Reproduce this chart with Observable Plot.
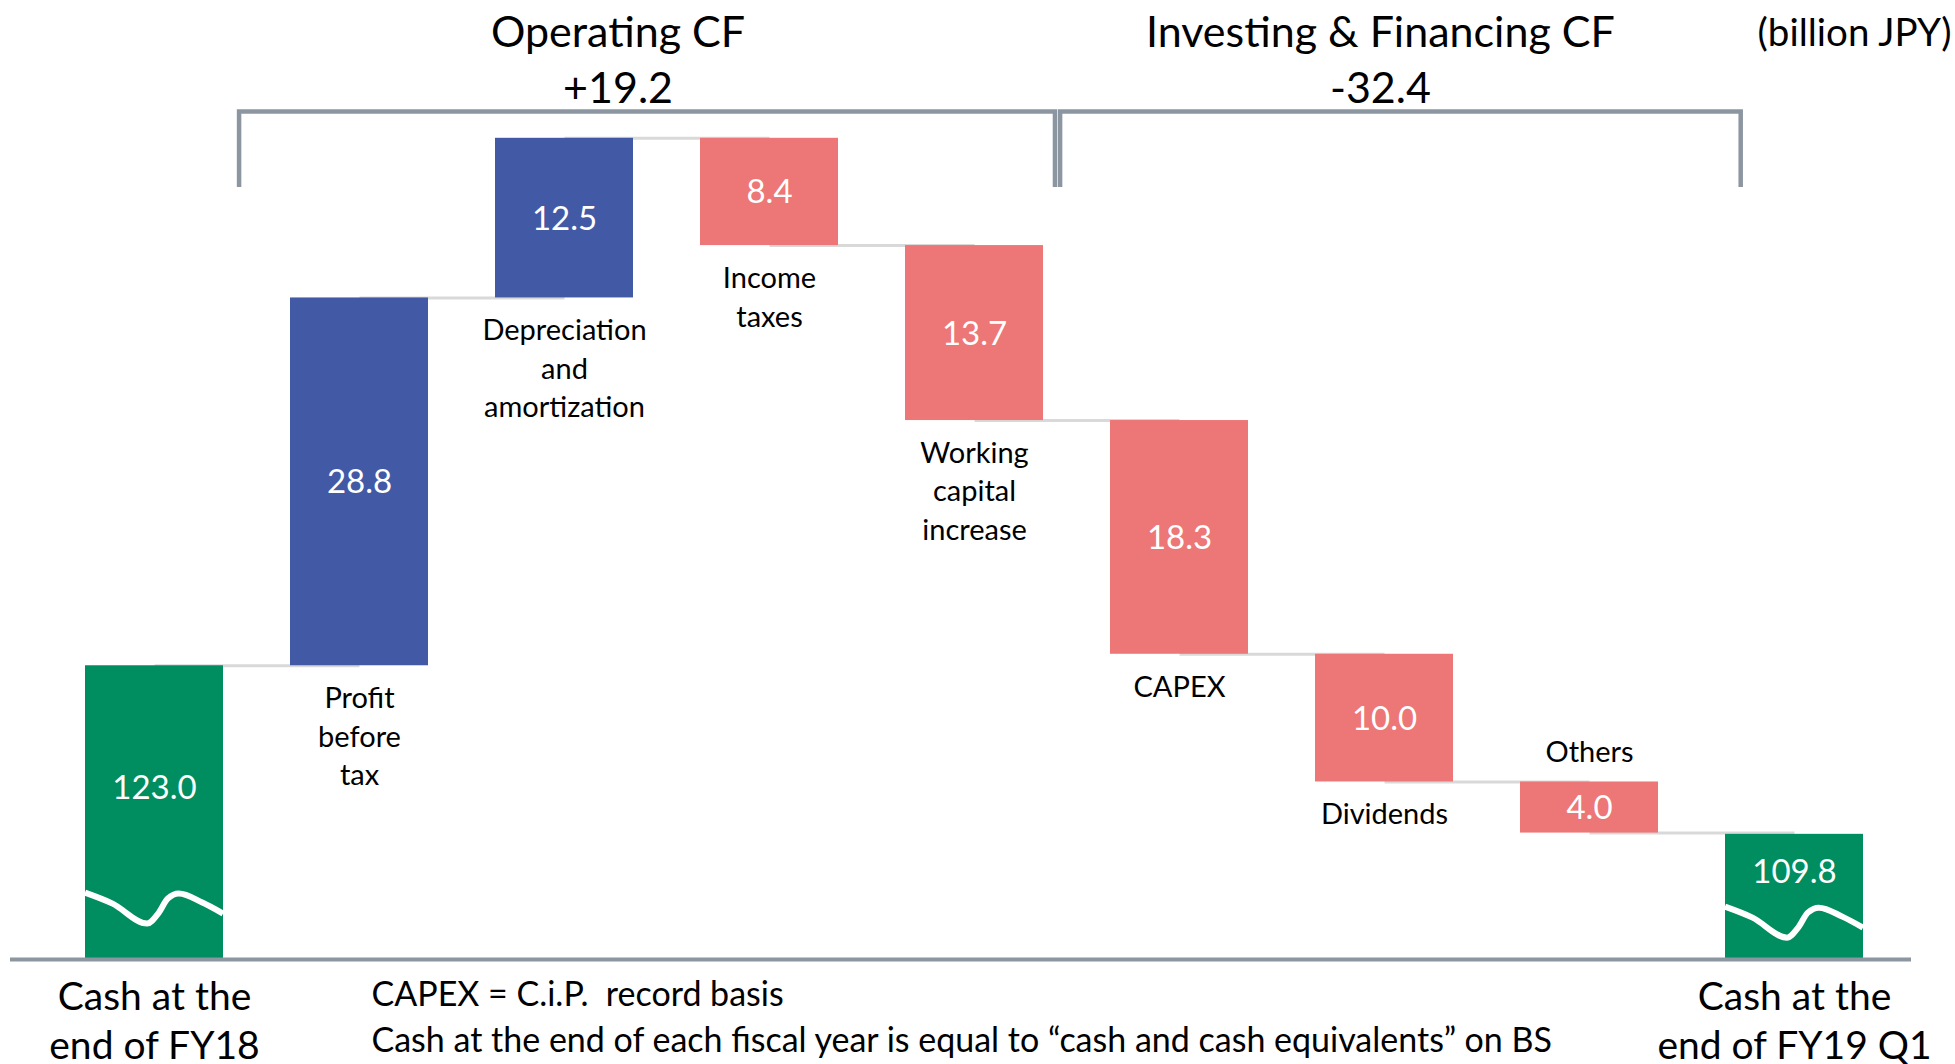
<!DOCTYPE html>
<html>
<head>
<meta charset="utf-8">
<script src="https://cdn.jsdelivr.net/npm/d3@7"></script>
<script src="https://cdn.jsdelivr.net/npm/@observablehq/plot@0.6"></script>
<style>
  html, body { margin: 0; padding: 0; background: #fff; overflow: hidden; }
</style>
</head>
<body>
<div id="chart"></div>
<script>
// ---------------- DATA ----------------
const categories = [
  "Cash at the end of FY18",
  "Profit before tax",
  "Depreciation and amortization",
  "Income taxes",
  "Working capital increase",
  "CAPEX",
  "Dividends",
  "Others",
  "Cash at the end of FY19 Q1"
];
const labels = [
  "Cash at the\nend of FY18",
  "Profit\nbefore\ntax",
  "Depreciation\nand\namortization",
  "Income\ntaxes",
  "Working\ncapital\nincrease",
  "CAPEX",
  "Dividends",
  "Others",
  "Cash at the\nend of FY19 Q1"
];
const kinds = ["total", "increase", "increase", "decrease", "decrease", "decrease", "decrease", "decrease", "total"];
const values = [123.0, 28.8, 12.5, -8.4, -13.7, -18.3, -10.0, -4.0, 109.8];
const labelAbove = ["Others"];

const groupNames = ["Operating CF", "Investing & Financing CF"];
const groupTotals = [19.2, -32.4];

const unitLabel = "(billion JPY)";
const footnotes = [
  "CAPEX = C.i.P.\u00a0 record basis",
  "Cash at the end of each fiscal year is equal to \u201ccash and cash equivalents\u201d on BS"
];

const axisFloor = 100;   // the cash bars are truncated (broken axis)

// ---------------- DERIVED TABLE ----------------
let running = 0;
const rows = categories.map((name, i) => {
  const v = values[i];
  let y1, y2;
  if (kinds[i] === "total") { y1 = axisFloor; y2 = v; running = v; }
  else { y1 = running; y2 = running + v; running = y2; }
  return {name, label: labels[i], kind: kinds[i], value: v, y1, y2,
          top: Math.max(y1, y2), bottom: Math.min(y1, y2)};
});
const connectors = rows.slice(0, -1).map((r, i) => ({from: r.name, to: rows[i + 1].name, level: r.y2}));
const labelOf = new Map(rows.map(r => [r.name, r.label]));
const fmt = d3.format(".1f");
const fmtSigned = v => (v >= 0 ? "+" : "-") + fmt(Math.abs(v));

// ---------------- DRAWING HELPERS ----------------
const bwOf = s => typeof s.bandwidth === "function" ? s.bandwidth() : (s.bandwidth || 0);

// axis-break squiggles on the truncated cash bars
const breakLevels = [[categories[0], 105.2], [categories[8], 104.1]];
const breakMid = 104;
const waveShape = [[0, 0], [0.2, 11], [0.45, 31], [0.53, 21], [0.6, 6], [0.68, 1], [0.85, 10], [1, 21]];
function breakMarks(index, scales) {
  const {x, y} = scales;
  const bw = bwOf(x);
  const g = d3.create("svg:g");
  const line = d3.line().curve(d3.curveMonotoneX);
  for (const [name, lvl] of breakLevels) {
    const x0 = x(name), y0 = y(lvl);
    g.append("path")
      .attr("d", line(waveShape.map(([fx, dy]) => [x0 + fx * bw, y0 + dy])))
      .attr("fill", "none").attr("stroke", "#fff").attr("stroke-width", 6);
  }
  return g.node();
}

// group brackets with titles
const bracketSpec = [
  {from: categories[1], fromOff: -0.585, to: categories[4], toOff: 0.395, shift: -29},
  {from: categories[5], fromOff: -0.58, to: categories[8], toOff: -0.26, shift: -20}
];
function headerMarks(index, scales) {
  const {x} = scales;
  const bw = bwOf(x);
  const step = x(categories[1]) - x(categories[0]);
  const c = n => x(n) + bw / 2;
  const g = d3.create("svg:g");
  bracketSpec.forEach((b, i) => {
    const x1 = c(b.from) + b.fromOff * step;
    const x2 = c(b.to) + b.toOff * step;
    g.append("path")
      .attr("d", `M${x1},187V111.5H${x2}V187`)
      .attr("fill", "none").attr("stroke", "#8c96a1").attr("stroke-width", 4.5);
    const tx = (x1 + x2) / 2 + b.shift;
    g.append("text").attr("x", tx).attr("y", 47).attr("text-anchor", "middle")
      .attr("font-size", 43).attr("fill", "#000").text(groupNames[i]);
    g.append("text").attr("x", tx).attr("y", 103).attr("text-anchor", "middle")
      .attr("font-size", 43).attr("fill", "#000").text(fmtSigned(groupTotals[i]));
  });
  return g.node();
}

// ---------------- PLOT ----------------
const chart = Plot.plot({
  width: 1955,
  height: 1064,
  marginTop: 65,
  marginBottom: 105,
  marginLeft: 17,
  marginRight: 24,
  style: {fontFamily: "Lato, 'Open Sans', sans-serif", background: "#fff", color: "#000", overflow: "visible"},
  x: {domain: categories, padding: 0.325},
  y: {domain: [axisFloor, 170], axis: null},
  color: {domain: ["total", "increase", "decrease"], range: ["#008d5f", "#4259a6", "#ed7676"]},
  marks: [
    Plot.link(connectors, {x1: "from", x2: "to", y1: "level", y2: "level", stroke: "#d9d9d9", strokeWidth: 3}),
    Plot.barY(rows, {x: "name", y1: "y1", y2: "y2", fill: "kind"}),
    breakMarks,
    Plot.ruleY([axisFloor], {stroke: "#8c96a1", strokeWidth: 4, insetLeft: -7, insetRight: 20}),
    Plot.text(rows, {
      x: "name",
      y: d => d.kind === "total" ? (d.value + breakMid) / 2 : (d.y1 + d.y2) / 2,
      text: d => fmt(Math.abs(d.value)),
      fill: "#fff", fontSize: 33, dy: 1
    }),
    Plot.text(rows.filter(d => d.kind !== "total" && !labelAbove.includes(d.name)), {
      x: "name", y: "bottom", text: "label", lineAnchor: "top", dy: 15,
      fontSize: 29, lineHeight: 1.33, fill: "#000"
    }),
    Plot.text(rows.filter(d => labelAbove.includes(d.name)), {
      x: "name", y: "top", text: "label", lineAnchor: "bottom", dy: -20,
      fontSize: 29, fill: "#000"
    }),
    Plot.axisX({
      ticks: [categories[0], categories[8]],
      tickFormat: d => labelOf.get(d),
      tickSize: 0, tickPadding: 16, fontSize: 39, lineHeight: 1.246, label: null
    }),
    headerMarks,
    Plot.text([unitLabel], {
      text: d => d, frameAnchor: "top-right", textAnchor: "end", lineAnchor: "bottom",
      dx: 20, dy: -20, fontSize: 38.5, fill: "#000"
    }),
    Plot.text([footnotes.join("\n")], {
      text: d => d, frameAnchor: "bottom-left", textAnchor: "start", lineAnchor: "top",
      dx: 354, dy: 14, fontSize: 34, lineHeight: 1.35, fill: "#000"
    })
  ]
});
document.getElementById("chart").append(chart);
</script>
</body>
</html>
